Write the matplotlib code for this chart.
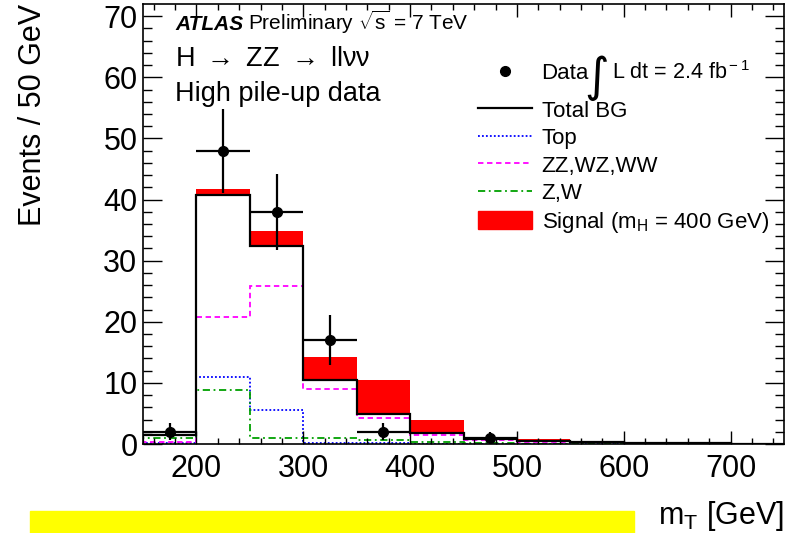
import numpy as np
import matplotlib
matplotlib.use("Agg")
import matplotlib.pyplot as plt
from matplotlib.lines import Line2D
from matplotlib.patches import Patch, Rectangle

plt.rcParams['font.family'] = ['Liberation Sans', 'DejaVu Sans']
plt.rcParams['mathtext.fontset'] = 'custom'
plt.rcParams['mathtext.rm'] = 'Liberation Sans'
plt.rcParams['mathtext.it'] = 'Liberation Sans:italic'
plt.rcParams['mathtext.bf'] = 'Liberation Sans:bold'

# bin edges in m_T [GeV]
edges = np.arange(150, 751, 50)

# background components (events / 50 GeV)
total_bg = [1.5, 40.8, 32.4, 10.4, 4.9, 1.8, 0.8, 0.5, 0.3, 0.2, 0.1, 0.05]
top = [0.1, 10.9, 5.5, 0.2, 0.1, 0.05, 0.03, 0.02, 0.01, 0.01, 0.0, 0.0]
zz_wz_ww = [0.3, 20.8, 25.8, 9.0, 4.2, 1.5, 0.7, 0.4, 0.25, 0.15, 0.08, 0.04]
z_w = [1.0, 8.8, 1.0, 1.0, 0.6, 0.3, 0.1, 0.05, 0.03, 0.02, 0.01, 0.01]
# signal m_H = 400 GeV, stacked on total BG
signal = [0.0, 1.0, 2.4, 3.9, 5.6, 2.2, 0.4, 0.3, 0.2, 0.1, 0.05, 0.0]

# data points
data_x = [175, 225, 275, 325, 375, 475]
data_y = [2, 48, 38, 17, 2, 1]
data_err = [1.4, 6.9, 6.2, 4.1, 1.4, 1.0]

fig = plt.figure(figsize=(7.96, 5.33), dpi=100)
ax = fig.add_axes([143 / 796, 89 / 533, 641 / 796, 440 / 533])

bg = np.array(total_bg)
sig_stack = bg + np.array(signal)

ax.stairs(sig_stack, edges, fill=True, color='red', lw=0)
ax.stairs(bg, edges, fill=True, color='white', lw=0)
ax.stairs(top, edges, color='blue', ls=(0, (1, 1.2)), lw=1.3)
ax.stairs(zz_wz_ww, edges, color='magenta', ls=(0, (3, 2)), lw=1.3)
ax.stairs(z_w, edges, color='#00a000', ls=(0, (4, 2, 1, 2)), lw=1.3)
ax.stairs(bg, edges, color='black', lw=1.6)

ax.errorbar(data_x, data_y, yerr=data_err, xerr=25, fmt='o', color='black',
            ms=7, elinewidth=1.6, capsize=0, zorder=5)

ax.set_xlim(150, 750)
ax.set_ylim(0, 72)
ax.set_xticks(np.arange(200, 701, 100))
ax.set_xticks(np.arange(160, 750, 20), minor=True)
ax.set_yticks(np.arange(0, 71, 10))
ax.set_yticks(np.arange(0, 72, 2), minor=True)
ax.tick_params(which='both', direction='in', top=True, right=True, width=1.0,
               labelsize=22)
ax.tick_params(axis='x', which='major', length=9.5, pad=7)
ax.tick_params(axis='x', which='minor', length=4.5)
ax.tick_params(axis='y', which='major', length=13.5, pad=4)
ax.tick_params(axis='y', which='minor', length=6.5)
for s in ax.spines.values():
    s.set_linewidth(1.2)

ax.set_ylabel('Events / 50 GeV', fontsize=22, loc='top')
ax.yaxis.set_label_coords(-0.148, 1.0)
ax.set_xlabel(r'm$_{\rm T}$ [GeV]', fontsize=22, loc='right')
ax.xaxis.set_label_coords(1.0, -0.125)

# labels in the upper left
ax.text(0.05, 0.941, 'ATLAS', transform=ax.transAxes, fontsize=15,
        fontweight='bold', fontstyle='italic', va='baseline')
ax.text(0.164, 0.941, r'Preliminary $\sqrt{\rm s}$ = 7 TeV', transform=ax.transAxes,
        fontsize=15, va='baseline')
ax.text(0.05, 0.86, r'H $\rightarrow$ ZZ $\rightarrow$ llνν', transform=ax.transAxes,
        fontsize=19.5, va='baseline')
ax.text(0.05, 0.78, 'High pile-up data', transform=ax.transAxes, fontsize=19.5,
        va='baseline')

# legend: data entry on its own row, then the histograms
leg_kw = dict(frameon=False, fontsize=16, handlelength=2.4, handletextpad=0.45,
              labelspacing=0.25, borderpad=0, borderaxespad=0, handleheight=0.9)
data_leg = ax.legend([Line2D([], [], marker='o', color='black', ls='none', ms=7)],
                     ['Data'], loc='upper left', bbox_to_anchor=(0.523, 0.868),
                     **leg_kw)
ax.add_artist(data_leg)

handles = [
    Line2D([], [], color='black', lw=1.6),
    Line2D([], [], color='blue', ls=(0, (1, 1.2)), lw=1.3),
    Line2D([], [], color='magenta', ls=(0, (3, 2)), lw=1.3),
    Line2D([], [], color='#00a000', ls=(0, (4, 2, 1, 2)), lw=1.3),
    Patch(facecolor='red', edgecolor='red'),
]
labels = ['Total BG', 'Top', 'ZZ,WZ,WW', 'Z,W', r'Signal (m$_{\rm H}$ = 400 GeV)']
ax.legend(handles, labels, loc='upper left', bbox_to_anchor=(0.523, 0.782), **leg_kw)

ax.text(0.708, 0.832, '∫', transform=ax.transAxes, fontsize=34, va='center',
        ha='center', family='DejaVu Sans')
ax.text(0.731, 0.845, r'L dt = 2.4 fb$^{\rm -1}$', transform=ax.transAxes,
        fontsize=15.5, va='center')

fig.patches.append(Rectangle((30 / 796, 0), 604 / 796, 22 / 533,
                             transform=fig.transFigure, color='#ffff00', zorder=0))

fig.savefig('out.png', dpi=100)
